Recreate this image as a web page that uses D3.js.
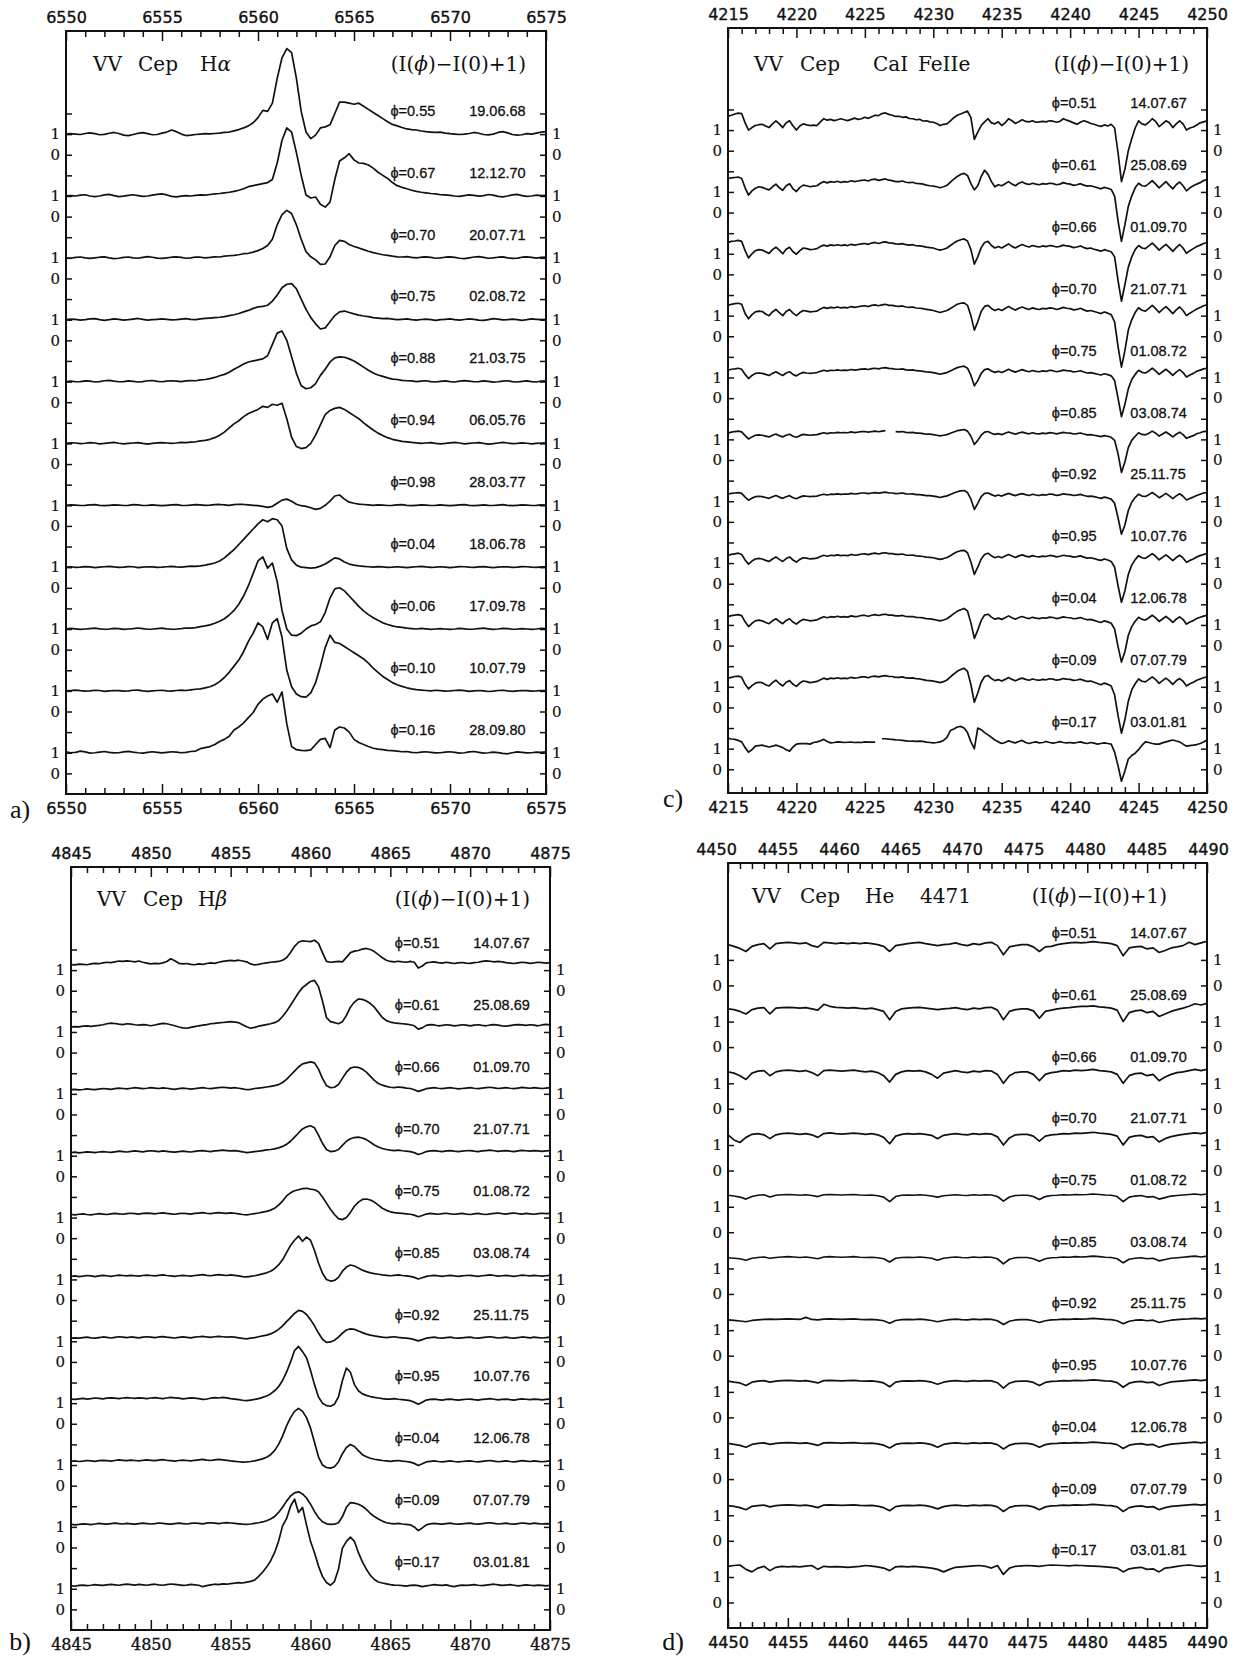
<!DOCTYPE html>
<html>
<head>
<meta charset="utf-8">
<script src="https://cdn.jsdelivr.net/npm/d3@7"></script>
<style>
  body { margin: 0; background: #fff; }
  svg { display: block; }
</style>
</head>
<body>
<svg id="fig" width="1238" height="1658"></svg>
<script>
// ---------- observation labels ----------
const haPhases = ["0.55","0.67","0.70","0.75","0.88","0.94","0.98","0.04","0.06","0.10","0.16"];
const haDates  = ["19.06.68","12.12.70","20.07.71","02.08.72","21.03.75","06.05.76","28.03.77","18.06.78","17.09.78","10.07.79","28.09.80"];
const obsPhases = ["0.51","0.61","0.66","0.70","0.75","0.85","0.92","0.95","0.04","0.09","0.17"];
const obsDates  = ["14.07.67","25.08.69","01.09.70","21.07.71","01.08.72","03.08.74","25.11.75","10.07.76","12.06.78","07.07.79","03.01.81"];

// ---------- H-alpha, 6550-6575 A, 0.25 A sampling: I(phi)-I(0)+1 ----------
const haFlux = [
 [1.0,1.02,1.0,0.98,1.03,1.06,1.02,0.97,0.99,1.04,1.08,1.03,0.95,0.93,0.98,1.04,1.07,1.02,0.97,0.98,
  1.05,1.1,1.2,1.12,1.0,0.93,0.95,0.98,1.0,1.02,1.01,1.03,1.05,1.08,1.1,1.16,1.22,1.3,1.4,1.55,
  1.8,2.15,2.1,2.5,3.7,4.7,5.15,4.95,3.7,2.1,1.1,0.78,0.95,1.3,1.35,1.45,2.0,2.55,2.55,2.5,
  2.45,2.5,2.35,2.2,2.05,1.9,1.75,1.6,1.47,1.4,1.32,1.25,1.22,1.2,1.15,1.12,1.1,1.08,1.1,1.05,
  1.02,1.0,0.98,1.0,1.03,1.08,1.04,0.98,0.96,1.0,1.08,1.12,1.06,0.98,0.95,0.97,1.02,1.0,1.05,1.1,1.12],
 [1.0,1.02,1.0,1.04,1.06,1.0,0.97,1.0,1.05,1.08,1.02,0.97,0.99,1.03,1.06,1.02,0.98,1.0,1.04,1.08,
  1.1,1.05,0.98,0.96,0.99,1.02,1.0,1.03,1.05,1.04,1.07,1.1,1.12,1.15,1.18,1.22,1.28,1.35,1.45,1.5,
  1.55,1.6,1.65,1.8,2.6,3.7,4.3,4.1,3.1,2.0,1.05,0.9,0.95,0.6,0.46,0.7,1.8,2.7,2.85,3.05,
  2.75,2.6,2.58,2.5,2.35,2.15,2.0,1.85,1.65,1.5,1.42,1.35,1.28,1.22,1.18,1.15,1.12,1.1,1.06,1.05,
  1.03,1.0,0.98,1.02,1.05,1.03,0.99,1.02,1.07,1.04,0.98,0.96,1.0,1.05,1.08,1.02,0.98,1.0,1.04,1.02,1.03],
 [1.0,0.98,1.02,1.04,1.0,0.97,1.0,1.03,1.05,1.0,0.96,0.98,1.02,1.04,1.0,0.98,1.02,1.06,1.03,0.99,
  0.97,1.0,1.03,1.05,1.02,0.98,1.0,1.04,1.03,1.0,1.02,1.05,1.04,1.08,1.1,1.12,1.15,1.2,1.22,1.28,
  1.35,1.45,1.6,1.9,2.6,3.1,3.3,3.15,2.6,1.9,1.3,1.05,0.9,0.68,0.7,1.05,1.6,1.85,1.8,1.65,
  1.55,1.48,1.4,1.32,1.25,1.2,1.15,1.12,1.08,1.05,1.04,1.06,1.02,1.0,1.03,1.05,1.02,0.98,1.0,1.03,
  1.05,1.02,0.98,0.96,1.0,1.04,1.06,1.02,0.98,1.0,1.03,1.05,1.0,0.97,0.99,1.03,1.05,1.02,0.99,1.02,1.04],
 [1.0,1.03,1.02,0.98,1.0,1.04,1.05,1.0,0.97,1.0,1.04,1.02,0.98,1.0,1.03,1.06,1.02,0.98,1.0,1.02,
  1.04,1.02,0.99,1.0,1.03,1.05,1.02,1.0,1.04,1.06,1.08,1.1,1.12,1.15,1.2,1.24,1.3,1.38,1.45,1.55,
  1.62,1.65,1.7,1.9,2.2,2.55,2.72,2.75,2.5,2.0,1.5,1.1,0.8,0.55,0.6,0.9,1.2,1.38,1.42,1.35,
  1.28,1.22,1.18,1.15,1.1,1.08,1.05,1.06,1.03,1.0,1.02,1.04,1.0,0.98,1.01,1.03,1.0,0.97,1.0,1.02,
  1.04,1.0,0.98,1.01,1.04,1.02,0.98,0.97,1.0,1.05,1.03,0.99,1.0,1.03,1.0,0.97,1.0,1.04,1.02,1.0,1.02],
 [1.0,1.02,0.99,1.0,1.03,1.02,0.98,1.0,1.04,1.06,1.02,0.99,1.0,1.03,1.01,0.98,1.0,1.04,1.05,1.01,
  0.99,1.02,1.04,1.02,1.0,1.03,1.05,1.04,1.08,1.1,1.14,1.2,1.28,1.35,1.45,1.6,1.72,1.85,1.95,2.0,
  2.05,2.1,2.25,2.8,3.35,3.45,3.0,2.2,1.4,0.8,0.65,0.7,0.9,1.3,1.6,1.95,2.15,2.2,2.18,2.1,
  2.0,1.85,1.7,1.55,1.42,1.32,1.25,1.18,1.12,1.1,1.06,1.04,1.03,1.0,1.02,1.04,1.0,0.98,1.01,1.03,
  1.0,0.98,1.02,1.05,1.02,0.99,1.0,1.03,1.01,0.97,0.99,1.02,1.04,1.0,0.98,1.01,1.03,1.0,0.98,1.02,1.03],
 [1.0,1.03,1.02,0.99,1.01,1.04,1.02,0.98,1.0,1.03,1.05,1.01,0.98,1.0,1.02,1.04,1.0,0.97,1.0,1.03,
  1.04,1.02,1.0,1.02,1.05,1.04,1.06,1.08,1.12,1.15,1.2,1.28,1.4,1.55,1.75,1.95,2.1,2.3,2.45,2.55,
  2.65,2.8,2.75,2.9,2.85,2.95,2.2,1.3,0.85,0.75,0.8,1.0,1.4,1.9,2.4,2.6,2.7,2.75,2.65,2.5,
  2.35,2.2,2.0,1.82,1.65,1.5,1.38,1.28,1.2,1.15,1.1,1.08,1.05,1.03,1.0,1.02,1.04,1.0,0.98,1.0,
  1.03,1.05,1.02,0.98,1.0,1.02,1.04,1.0,0.97,0.99,1.02,1.05,1.02,0.99,1.0,1.03,1.01,0.98,1.0,1.02,1.03],
 [1.0,1.02,1.01,0.99,1.0,1.02,1.03,1.0,0.98,1.0,1.02,1.01,0.99,1.0,1.03,1.02,0.99,1.0,1.02,1.0,
  0.98,1.0,1.02,1.03,1.0,0.99,1.01,1.03,1.02,1.0,1.01,1.03,1.04,1.02,1.0,1.03,1.05,1.04,1.02,1.0,
  0.98,0.95,0.9,0.95,1.1,1.25,1.3,1.2,1.05,0.98,0.95,0.88,0.8,0.85,1.0,1.2,1.45,1.5,1.3,1.15,
  1.1,1.06,1.04,1.02,1.0,1.02,1.01,0.99,1.0,1.02,1.03,1.0,0.98,1.0,1.02,1.01,0.99,1.0,1.02,1.0,
  0.98,1.0,1.02,1.03,1.0,0.98,1.0,1.02,1.0,0.99,1.01,1.03,1.0,0.98,1.0,1.02,1.01,0.99,1.0,1.02,1.01],
 [1.0,1.02,0.99,1.0,1.03,1.01,0.98,1.0,1.02,1.04,1.01,0.99,1.0,1.03,1.02,0.98,1.0,1.02,1.01,0.99,
  1.0,1.02,1.04,1.01,1.0,1.03,1.05,1.04,1.06,1.1,1.15,1.2,1.3,1.45,1.65,1.85,2.1,2.35,2.6,2.85,
  3.1,3.3,3.2,3.35,3.3,3.0,1.9,1.35,1.1,1.0,0.98,0.95,0.98,1.05,1.15,1.3,1.45,1.4,1.25,1.15,
  1.1,1.06,1.04,1.02,1.0,1.03,1.01,0.99,1.0,1.02,1.0,0.98,1.0,1.02,1.04,1.01,0.99,1.0,1.02,1.0,
  0.98,1.0,1.03,1.02,1.0,0.99,1.01,1.03,1.0,0.98,1.0,1.02,1.01,0.99,1.0,1.03,1.02,1.0,0.99,1.01,1.02],
 [1.0,1.03,1.01,0.98,1.0,1.02,1.04,1.01,0.99,1.0,1.03,1.02,0.98,1.0,1.02,1.05,1.02,0.99,1.0,1.02,
  1.04,1.01,0.99,1.0,1.02,1.05,1.04,1.07,1.12,1.15,1.2,1.28,1.38,1.5,1.68,1.9,2.2,2.6,3.1,3.7,
  4.3,4.5,3.95,4.2,3.3,1.9,1.0,0.7,0.68,0.8,1.0,1.15,1.22,1.35,1.8,2.5,2.95,3.0,2.85,2.6,
  2.35,2.1,1.88,1.7,1.55,1.42,1.3,1.22,1.15,1.1,1.08,1.04,1.02,1.0,1.03,1.01,0.98,1.0,1.02,1.0,
  0.98,1.0,1.03,1.01,0.99,1.0,1.02,1.04,1.01,0.98,1.0,1.03,1.02,0.99,1.0,1.02,1.0,0.98,1.0,1.03,1.02],
 [1.0,1.02,1.04,1.01,0.99,1.0,1.03,1.02,0.98,1.0,1.02,1.01,0.99,1.0,1.03,1.04,1.0,0.98,1.0,1.02,
  1.03,1.0,0.99,1.02,1.04,1.02,1.05,1.08,1.1,1.15,1.2,1.3,1.45,1.65,1.9,2.2,2.5,2.9,3.4,3.8,
  4.3,4.1,3.5,4.3,4.5,3.6,2.0,1.2,0.85,0.72,0.7,0.9,1.4,2.2,3.1,3.7,3.35,3.3,3.15,3.0,
  2.85,2.7,2.55,2.35,2.1,1.9,1.7,1.55,1.4,1.3,1.22,1.15,1.1,1.06,1.04,1.02,1.0,1.03,1.01,0.99,
  1.0,1.02,1.04,1.01,0.98,1.0,1.02,1.0,0.97,0.99,1.02,1.03,1.0,0.98,1.0,1.02,1.01,0.99,1.0,1.02,1.01],
 [1.05,1.0,1.02,1.08,1.04,0.98,1.0,1.03,1.06,1.02,0.99,1.0,1.04,1.07,1.03,1.0,0.98,1.02,1.05,1.02,
  0.99,1.02,1.05,1.03,1.0,1.02,1.06,1.08,1.2,1.25,1.3,1.4,1.55,1.65,1.8,2.1,2.25,2.45,2.7,2.95,
  3.35,3.6,3.75,3.85,3.45,3.95,2.4,1.3,1.15,1.12,1.1,1.14,1.4,1.65,1.7,1.25,2.1,2.25,2.2,2.0,
  1.65,1.5,1.4,1.3,1.22,1.18,1.15,1.12,1.1,1.08,1.05,1.06,1.02,1.0,1.03,1.05,1.02,0.99,1.0,1.03,
  1.05,1.02,0.98,1.0,1.04,1.06,1.02,0.98,1.0,1.03,1.01,0.97,0.95,1.0,1.04,1.02,0.99,1.0,1.03,1.02,1.05]
];

// ---------- H-beta, 4845-4875 A, 0.25 A sampling ----------
const hbFlux = [
 [1.27,1.25,1.29,1.28,1.26,1.3,1.33,1.31,1.35,1.38,1.36,1.4,1.44,1.42,1.45,1.43,1.4,1.44,1.38,1.34,
  1.3,1.33,1.31,1.35,1.42,1.55,1.45,1.33,1.3,1.32,1.28,1.26,1.3,1.28,1.32,1.35,1.33,1.38,1.42,1.45,
  1.47,1.45,1.48,1.44,1.4,1.3,1.25,1.28,1.32,1.35,1.38,1.4,1.42,1.48,1.6,1.85,2.15,2.35,2.42,2.4,
  2.38,2.45,2.3,1.85,1.42,1.38,1.4,1.42,1.4,1.62,1.85,1.92,1.95,2.02,2.05,2.0,1.9,1.75,1.6,1.48,
  1.42,1.4,1.43,1.4,1.38,1.42,1.38,1.1,1.2,1.35,1.38,1.4,1.36,1.34,1.38,1.35,1.32,1.35,1.37,1.34,
  1.33,1.36,1.38,1.42,1.45,1.43,1.4,1.42,1.4,1.36,1.34,1.32,1.35,1.38,1.36,1.33,1.35,1.38,1.36,1.34,1.36],
 [1.24,1.26,1.25,1.28,1.3,1.27,1.3,1.32,1.35,1.4,1.43,1.41,1.38,1.36,1.4,1.38,1.35,1.33,1.36,1.34,
  1.3,1.34,1.38,1.42,1.4,1.35,1.3,1.24,1.2,1.18,1.22,1.26,1.3,1.33,1.36,1.4,1.42,1.44,1.46,1.48,
  1.5,1.48,1.45,1.35,1.25,1.18,1.22,1.28,1.32,1.36,1.4,1.45,1.55,1.75,2.0,2.3,2.6,2.9,3.15,3.3,
  3.45,3.5,3.2,2.5,1.7,1.5,1.45,1.4,1.5,1.8,2.2,2.45,2.6,2.58,2.5,2.38,2.2,1.95,1.7,1.55,
  1.48,1.44,1.42,1.4,1.38,1.35,1.3,1.14,1.2,1.32,1.36,1.34,1.3,1.32,1.35,1.33,1.3,1.32,1.35,1.33,
  1.3,1.33,1.35,1.32,1.3,1.34,1.36,1.33,1.3,1.28,1.31,1.34,1.36,1.34,1.32,1.35,1.33,1.3,1.34,1.37,1.35],
 [1.2,1.22,1.19,1.21,1.24,1.22,1.2,1.23,1.26,1.24,1.22,1.25,1.28,1.26,1.24,1.27,1.3,1.28,1.25,1.27,
  1.3,1.28,1.26,1.29,1.27,1.24,1.22,1.25,1.28,1.26,1.23,1.25,1.28,1.3,1.27,1.25,1.28,1.3,1.32,1.3,
  1.28,1.3,1.27,1.24,1.2,1.22,1.26,1.28,1.3,1.33,1.36,1.4,1.45,1.55,1.7,1.9,2.1,2.3,2.45,2.5,
  2.55,2.5,2.2,1.75,1.4,1.3,1.32,1.45,1.75,2.05,2.25,2.3,2.28,2.2,2.05,1.85,1.65,1.5,1.42,1.36,
  1.32,1.3,1.33,1.31,1.28,1.26,1.2,1.12,1.18,1.25,1.28,1.3,1.27,1.25,1.28,1.3,1.27,1.24,1.26,1.28,
  1.3,1.27,1.25,1.28,1.3,1.32,1.29,1.26,1.28,1.3,1.27,1.25,1.28,1.31,1.29,1.27,1.3,1.28,1.26,1.28,1.3],
 [1.15,1.17,1.14,1.16,1.19,1.17,1.15,1.18,1.2,1.18,1.16,1.19,1.22,1.2,1.18,1.21,1.23,1.21,1.19,1.22,
  1.24,1.22,1.2,1.23,1.21,1.19,1.17,1.2,1.22,1.2,1.18,1.21,1.23,1.25,1.22,1.2,1.23,1.25,1.27,1.25,
  1.23,1.25,1.22,1.19,1.15,1.17,1.2,1.22,1.25,1.28,1.3,1.33,1.38,1.45,1.55,1.7,1.9,2.1,2.3,2.4,
  2.45,2.35,2.0,1.6,1.3,1.2,1.22,1.3,1.5,1.7,1.82,1.88,1.9,1.86,1.78,1.65,1.52,1.42,1.35,1.3,
  1.27,1.25,1.27,1.24,1.22,1.2,1.15,1.06,1.12,1.2,1.23,1.25,1.22,1.2,1.23,1.25,1.22,1.2,1.22,1.24,
  1.25,1.22,1.2,1.23,1.25,1.27,1.24,1.21,1.23,1.25,1.22,1.2,1.23,1.26,1.24,1.22,1.25,1.23,1.21,1.23,1.25],
 [1.15,1.13,1.16,1.18,1.15,1.13,1.16,1.19,1.17,1.15,1.18,1.2,1.18,1.16,1.19,1.21,1.19,1.17,1.2,1.22,
  1.2,1.18,1.21,1.23,1.2,1.18,1.16,1.19,1.21,1.19,1.17,1.2,1.22,1.24,1.21,1.19,1.22,1.24,1.22,1.2,
  1.23,1.21,1.18,1.15,1.13,1.16,1.19,1.22,1.26,1.3,1.36,1.45,1.6,1.8,2.05,2.2,2.3,2.35,2.4,2.42,
  2.38,2.35,2.25,2.0,1.7,1.4,1.15,0.95,0.9,1.0,1.25,1.55,1.75,1.88,1.9,1.85,1.75,1.6,1.45,1.35,
  1.28,1.24,1.22,1.2,1.18,1.16,1.12,1.04,1.1,1.17,1.2,1.18,1.16,1.19,1.21,1.18,1.16,1.18,1.2,1.17,
  1.15,1.18,1.2,1.17,1.15,1.18,1.2,1.22,1.19,1.17,1.2,1.22,1.19,1.17,1.2,1.18,1.16,1.19,1.21,1.19,1.2],
 [1.15,1.17,1.14,1.16,1.19,1.17,1.14,1.17,1.2,1.18,1.15,1.18,1.21,1.19,1.17,1.2,1.18,1.16,1.19,1.21,
  1.19,1.17,1.2,1.22,1.19,1.17,1.15,1.18,1.2,1.18,1.16,1.19,1.21,1.23,1.2,1.18,1.21,1.23,1.21,1.19,
  1.22,1.2,1.17,1.14,1.12,1.15,1.18,1.22,1.27,1.32,1.4,1.52,1.7,1.95,2.3,2.65,2.9,3.1,2.85,3.05,
  2.9,2.4,1.8,1.3,1.0,0.92,0.95,1.1,1.4,1.6,1.7,1.65,1.55,1.45,1.38,1.32,1.28,1.25,1.22,1.2,
  1.18,1.2,1.22,1.19,1.17,1.15,1.1,1.02,1.08,1.15,1.18,1.2,1.17,1.15,1.18,1.2,1.17,1.15,1.17,1.19,
  1.2,1.17,1.15,1.18,1.2,1.22,1.19,1.16,1.18,1.2,1.17,1.15,1.18,1.21,1.19,1.17,1.2,1.18,1.16,1.18,1.2],
 [1.15,1.17,1.15,1.18,1.2,1.17,1.15,1.18,1.21,1.19,1.16,1.19,1.22,1.2,1.18,1.21,1.19,1.17,1.2,1.22,
  1.2,1.18,1.21,1.23,1.2,1.18,1.16,1.19,1.21,1.19,1.17,1.2,1.22,1.24,1.21,1.19,1.22,1.24,1.22,1.2,
  1.22,1.2,1.17,1.14,1.12,1.15,1.18,1.22,1.26,1.3,1.36,1.45,1.58,1.75,1.95,2.15,2.35,2.5,2.45,2.3,
  2.05,1.75,1.4,1.1,0.95,0.97,1.05,1.2,1.4,1.55,1.6,1.58,1.5,1.42,1.35,1.3,1.26,1.23,1.2,1.18,
  1.2,1.22,1.19,1.17,1.15,1.13,1.08,1.02,1.08,1.15,1.18,1.2,1.17,1.15,1.18,1.2,1.17,1.15,1.17,1.19,
  1.2,1.17,1.15,1.18,1.2,1.22,1.19,1.16,1.18,1.2,1.17,1.15,1.18,1.21,1.19,1.17,1.2,1.18,1.16,1.18,1.2],
 [1.2,1.18,1.21,1.23,1.2,1.22,1.25,1.23,1.21,1.24,1.26,1.24,1.22,1.25,1.27,1.25,1.23,1.26,1.24,1.22,
  1.25,1.27,1.24,1.22,1.25,1.28,1.26,1.24,1.21,1.23,1.26,1.24,1.22,1.18,1.2,1.24,1.27,1.25,1.28,1.26,
  1.22,1.2,1.17,1.14,1.12,1.15,1.18,1.22,1.28,1.35,1.45,1.6,1.8,2.1,2.5,3.0,3.55,3.75,3.5,3.2,
  2.6,1.9,1.3,1.0,0.88,0.85,0.95,1.3,2.1,2.7,2.5,1.9,1.6,1.45,1.38,1.32,1.28,1.25,1.22,1.2,
  1.2,1.22,1.19,1.17,1.15,1.12,1.05,0.95,1.05,1.15,1.18,1.2,1.17,1.15,1.18,1.2,1.17,1.15,1.17,1.19,
  1.2,1.17,1.15,1.18,1.2,1.22,1.19,1.16,1.18,1.2,1.17,1.15,1.18,1.21,1.19,1.17,1.2,1.18,1.16,1.18,1.2],
 [1.18,1.2,1.17,1.19,1.22,1.2,1.18,1.21,1.23,1.21,1.19,1.22,1.25,1.23,1.21,1.24,1.22,1.2,1.23,1.25,
  1.23,1.21,1.24,1.26,1.23,1.21,1.19,1.22,1.24,1.22,1.2,1.23,1.25,1.27,1.24,1.22,1.25,1.27,1.25,1.23,
  1.2,1.18,1.16,1.14,1.15,1.17,1.2,1.25,1.3,1.38,1.5,1.7,2.0,2.4,2.9,3.3,3.6,3.75,3.6,3.3,
  2.8,2.1,1.4,1.0,0.88,0.85,0.92,1.15,1.55,1.85,2.0,1.9,1.7,1.5,1.4,1.33,1.28,1.25,1.22,1.2,
  1.18,1.2,1.22,1.19,1.17,1.14,1.08,0.98,1.06,1.15,1.18,1.2,1.17,1.15,1.18,1.2,1.17,1.15,1.17,1.19,
  1.2,1.17,1.15,1.18,1.2,1.22,1.19,1.16,1.18,1.2,1.17,1.15,1.18,1.21,1.19,1.17,1.2,1.18,1.16,1.18,1.2],
 [1.13,1.1,1.12,1.15,1.13,1.11,1.14,1.17,1.15,1.13,1.16,1.18,1.16,1.14,1.17,1.15,1.13,1.16,1.18,1.16,
  1.14,1.16,1.19,1.17,1.15,1.13,1.16,1.18,1.16,1.14,1.17,1.19,1.17,1.15,1.18,1.2,1.18,1.16,1.19,1.21,
  1.19,1.17,1.15,1.13,1.12,1.14,1.17,1.2,1.24,1.3,1.38,1.5,1.7,1.95,2.25,2.5,2.65,2.7,2.6,2.4,
  2.1,1.75,1.45,1.25,1.15,1.12,1.13,1.2,1.5,1.95,2.18,2.15,2.1,2.0,1.85,1.65,1.5,1.38,1.28,1.2,
  1.17,1.15,1.17,1.14,1.12,1.1,1.0,0.82,0.95,1.1,1.15,1.17,1.15,1.13,1.16,1.18,1.15,1.13,1.15,1.17,
  1.18,1.15,1.13,1.16,1.18,1.2,1.17,1.14,1.16,1.18,1.15,1.13,1.16,1.19,1.17,1.15,1.18,1.16,1.14,1.16,1.15],
 [1.15,1.12,1.16,1.18,1.15,1.17,1.2,1.18,1.16,1.19,1.21,1.19,1.17,1.2,1.22,1.2,1.18,1.21,1.19,1.17,
  1.2,1.22,1.19,1.17,1.2,1.23,1.21,1.19,1.16,1.18,1.21,1.19,1.17,1.1,1.15,1.19,1.22,1.2,1.24,1.22,
  1.25,1.27,1.3,1.28,1.32,1.36,1.42,1.6,1.8,2.05,2.35,2.75,3.3,4.05,4.4,5.0,5.35,4.7,4.95,4.1,
  3.3,2.75,2.1,1.6,1.3,1.17,1.35,1.95,2.97,3.3,3.5,3.3,2.75,2.3,1.95,1.65,1.45,1.33,1.28,1.24,
  1.2,1.18,1.17,1.15,1.13,1.16,1.18,1.15,1.1,1.14,1.17,1.2,1.18,1.16,1.19,1.14,1.1,1.15,1.18,1.16,
  1.18,1.2,1.17,1.15,1.18,1.2,1.22,1.19,1.16,1.18,1.2,1.17,1.14,1.16,1.19,1.17,1.15,1.18,1.16,1.14,1.17]
];

// ---------- Ca I / Fe II region, 4215-4250 A, 0.25 A sampling (null = no data) ----------
const caFlux = [
 [1.67,1.72,1.78,1.82,1.8,1.35,1.0,1.12,1.22,1.26,1.28,1.2,1.12,1.3,1.45,1.3,1.12,1.35,1.45,1.2,
  1.0,1.2,1.3,1.25,1.22,1.24,1.22,1.4,1.55,1.48,1.52,1.46,1.5,1.55,1.5,1.46,1.52,1.58,1.52,1.55,
  1.62,1.57,1.65,1.72,1.7,1.8,1.83,1.76,1.72,1.66,1.67,1.62,1.64,1.56,1.55,1.5,1.52,1.44,1.45,1.4,
  1.38,1.32,1.22,1.28,1.3,1.45,1.6,1.72,1.78,1.85,1.92,1.6,0.55,0.9,1.22,1.4,1.55,1.35,1.3,1.4,
  1.22,1.35,1.55,1.45,1.32,1.4,1.5,1.42,1.4,1.45,1.38,1.4,1.42,1.4,1.45,1.43,1.38,1.42,1.55,1.48,
  1.42,1.35,1.28,1.38,1.45,1.4,1.32,1.28,1.22,1.18,1.25,1.2,1.28,1.1,-0.1,-1.5,-0.9,0.0,0.58,1.1,
  1.45,1.3,1.25,1.38,1.55,1.42,1.17,1.3,1.45,1.35,1.12,1.3,1.45,1.3,1.0,1.1,1.15,1.25,1.35,1.4,1.45],
 [1.65,1.68,1.7,1.72,1.65,1.2,0.85,1.05,1.18,1.25,1.22,1.15,1.1,1.25,1.38,1.2,1.08,1.3,1.4,1.15,
  1.02,1.22,1.33,1.3,1.25,1.28,1.3,1.42,1.5,1.44,1.5,1.47,1.52,1.46,1.5,1.48,1.54,1.5,1.53,1.56,
  1.58,1.53,1.6,1.62,1.56,1.6,1.63,1.57,1.55,1.5,1.5,1.53,1.47,1.45,1.47,1.41,1.4,1.38,1.33,1.3,
  1.28,1.25,1.2,1.25,1.32,1.48,1.62,1.75,1.85,1.9,1.8,1.4,1.1,1.3,1.75,2.05,1.85,1.5,1.25,1.35,
  1.3,1.4,1.5,1.38,1.3,1.42,1.48,1.4,1.36,1.42,1.38,1.35,1.4,1.38,1.42,1.4,1.35,1.38,1.45,1.4,
  1.38,1.32,1.35,1.4,1.33,1.28,1.3,1.25,1.2,1.15,1.22,1.18,1.12,0.8,-0.4,-1.4,-0.6,0.3,0.8,1.2,
  1.42,1.3,1.28,1.4,1.55,1.38,1.2,1.35,1.5,1.32,1.15,1.35,1.48,1.3,1.05,1.2,1.3,1.38,1.45,1.55,1.6],
 [1.55,1.6,1.62,1.65,1.6,1.15,0.8,1.0,1.15,1.2,1.18,1.1,1.02,1.2,1.32,1.18,1.0,1.22,1.32,1.1,
  0.98,1.15,1.28,1.25,1.2,1.22,1.25,1.35,1.42,1.37,1.43,1.4,1.44,1.4,1.43,1.4,1.46,1.42,1.45,1.48,
  1.5,1.46,1.52,1.55,1.5,1.55,1.58,1.53,1.52,1.48,1.47,1.49,1.44,1.42,1.44,1.39,1.38,1.36,1.32,1.3,
  1.28,1.22,1.18,1.22,1.28,1.4,1.52,1.62,1.68,1.72,1.62,1.2,0.5,0.85,1.3,1.55,1.6,1.4,1.28,1.35,
  1.28,1.38,1.48,1.36,1.28,1.38,1.45,1.38,1.33,1.4,1.36,1.33,1.38,1.35,1.4,1.38,1.33,1.36,1.42,1.38,
  1.36,1.3,1.33,1.38,1.3,1.25,1.28,1.22,1.18,1.12,1.2,1.15,1.1,0.85,-0.3,-1.3,-0.5,0.35,0.85,1.2,
  1.4,1.28,1.25,1.38,1.52,1.36,1.18,1.32,1.46,1.3,1.12,1.3,1.45,1.28,1.02,1.15,1.25,1.35,1.42,1.5,1.55],
 [1.5,1.55,1.58,1.6,1.55,1.1,0.85,1.05,1.18,1.22,1.2,1.08,1.0,1.18,1.3,1.15,1.0,1.2,1.3,1.12,
  1.0,1.15,1.25,1.22,1.18,1.2,1.22,1.32,1.4,1.35,1.4,1.38,1.42,1.38,1.4,1.38,1.44,1.4,1.43,1.46,
  1.48,1.44,1.5,1.52,1.48,1.52,1.55,1.5,1.5,1.46,1.45,1.47,1.42,1.4,1.42,1.37,1.36,1.34,1.3,1.28,
  1.25,1.2,1.15,1.2,1.25,1.35,1.45,1.55,1.6,1.62,1.5,1.0,0.3,0.7,1.2,1.45,1.5,1.35,1.25,1.32,
  1.25,1.35,1.45,1.35,1.27,1.36,1.42,1.35,1.3,1.38,1.33,1.3,1.35,1.33,1.38,1.36,1.3,1.34,1.4,1.36,
  1.34,1.28,1.3,1.36,1.28,1.22,1.25,1.2,1.15,1.1,1.18,1.12,1.05,0.7,-0.5,-1.5,-0.7,0.3,0.8,1.15,
  1.38,1.26,1.22,1.35,1.5,1.34,1.15,1.3,1.44,1.28,1.1,1.28,1.42,1.25,1.0,1.12,1.22,1.32,1.4,1.48,1.52],
 [1.35,1.4,1.42,1.45,1.4,1.15,0.95,1.1,1.2,1.22,1.2,1.15,1.1,1.2,1.28,1.18,1.1,1.22,1.28,1.15,
  1.08,1.18,1.25,1.22,1.2,1.22,1.24,1.3,1.35,1.31,1.35,1.34,1.37,1.34,1.36,1.35,1.39,1.36,1.38,1.41,
  1.42,1.39,1.43,1.45,1.42,1.46,1.48,1.44,1.43,1.4,1.4,1.42,1.37,1.36,1.37,1.33,1.32,1.3,1.27,1.26,
  1.24,1.2,1.16,1.2,1.24,1.32,1.4,1.48,1.52,1.55,1.45,1.1,0.6,0.85,1.2,1.38,1.42,1.32,1.25,1.3,
  1.24,1.32,1.4,1.32,1.26,1.33,1.38,1.32,1.28,1.34,1.3,1.28,1.32,1.3,1.35,1.33,1.28,1.31,1.36,1.33,
  1.32,1.27,1.29,1.33,1.27,1.22,1.24,1.2,1.16,1.12,1.18,1.14,1.08,0.85,0.0,-0.9,-0.3,0.45,0.9,1.15,
  1.35,1.25,1.22,1.32,1.45,1.32,1.15,1.28,1.4,1.26,1.1,1.26,1.38,1.24,1.02,1.12,1.2,1.3,1.36,1.42,1.45],
 [1.3,1.35,1.38,1.4,1.36,1.18,1.02,1.12,1.2,1.22,1.2,1.16,1.12,1.2,1.26,1.18,1.12,1.2,1.25,1.15,
  1.1,1.18,1.24,1.22,1.2,1.22,1.23,1.28,1.32,1.28,1.32,1.31,1.34,1.32,1.33,1.32,1.36,1.33,1.35,1.38,
  1.38,1.35,1.38,1.4,1.37,1.4,1.42,null,null,1.38,1.36,1.38,1.34,1.33,1.34,1.3,1.3,1.28,1.25,1.25,
  1.23,1.2,1.17,1.2,1.23,1.3,1.36,1.42,1.45,1.48,1.4,1.15,0.75,0.95,1.2,1.35,1.38,1.3,1.24,1.28,
  1.23,1.3,1.36,1.3,1.25,1.31,1.35,1.3,1.27,1.32,1.28,1.27,1.3,1.28,1.33,1.31,1.27,1.3,1.34,1.31,
  1.3,1.26,1.28,1.31,1.26,1.22,1.23,1.2,1.17,1.13,1.18,1.15,1.1,0.95,0.3,-0.6,-0.1,0.6,0.95,1.15,
  1.32,1.24,1.22,1.3,1.4,1.3,1.16,1.26,1.36,1.25,1.12,1.25,1.35,1.23,1.05,1.12,1.18,1.27,1.32,1.38,1.4],
 [1.35,1.38,1.4,1.42,1.38,1.2,1.05,1.15,1.22,1.24,1.22,1.18,1.14,1.22,1.28,1.2,1.14,1.22,1.27,1.17,
  1.12,1.2,1.26,1.24,1.22,1.24,1.25,1.3,1.34,1.3,1.34,1.33,1.36,1.33,1.35,1.34,1.38,1.35,1.37,1.4,
  1.4,1.37,1.4,1.42,1.39,1.42,1.44,1.4,1.4,1.37,1.38,1.4,1.36,1.35,1.36,1.32,1.32,1.3,1.27,1.27,
  1.25,1.22,1.18,1.22,1.26,1.33,1.4,1.46,1.5,1.52,1.42,1.1,0.6,0.9,1.22,1.38,1.4,1.32,1.25,1.3,
  1.25,1.32,1.38,1.32,1.27,1.33,1.37,1.32,1.28,1.34,1.3,1.28,1.32,1.3,1.35,1.33,1.28,1.31,1.36,1.33,
  1.32,1.28,1.3,1.33,1.28,1.24,1.25,1.22,1.18,1.14,1.2,1.16,1.1,0.9,0.2,-0.6,-0.15,0.55,0.95,1.18,
  1.34,1.25,1.23,1.32,1.42,1.31,1.17,1.27,1.38,1.26,1.13,1.26,1.36,1.24,1.06,1.13,1.2,1.28,1.34,1.4,1.42],
 [1.38,1.42,1.45,1.48,1.42,1.15,0.95,1.1,1.2,1.23,1.2,1.13,1.08,1.2,1.3,1.18,1.08,1.22,1.3,1.15,
  1.05,1.18,1.26,1.24,1.2,1.22,1.24,1.32,1.38,1.33,1.38,1.36,1.4,1.36,1.38,1.36,1.42,1.38,1.4,1.44,
  1.45,1.41,1.46,1.48,1.44,1.48,1.5,1.46,1.46,1.42,1.42,1.44,1.39,1.38,1.39,1.35,1.34,1.32,1.29,1.28,
  1.26,1.22,1.18,1.22,1.27,1.36,1.46,1.55,1.6,1.62,1.5,1.05,0.45,0.8,1.2,1.42,1.48,1.35,1.26,1.32,
  1.26,1.34,1.42,1.34,1.27,1.35,1.4,1.34,1.3,1.36,1.32,1.3,1.34,1.32,1.37,1.35,1.3,1.33,1.38,1.35,
  1.34,1.29,1.31,1.35,1.29,1.24,1.26,1.22,1.17,1.13,1.2,1.15,1.08,0.8,-0.1,-0.9,-0.35,0.45,0.9,1.17,
  1.36,1.26,1.23,1.34,1.46,1.33,1.16,1.28,1.4,1.27,1.12,1.27,1.38,1.25,1.04,1.13,1.2,1.3,1.36,1.42,1.46],
 [1.4,1.45,1.48,1.5,1.45,1.15,0.92,1.08,1.2,1.23,1.2,1.12,1.06,1.2,1.3,1.17,1.06,1.22,1.3,1.14,
  1.04,1.18,1.27,1.24,1.2,1.22,1.25,1.33,1.4,1.35,1.4,1.38,1.42,1.38,1.4,1.38,1.44,1.4,1.42,1.46,
  1.46,1.42,1.47,1.5,1.46,1.5,1.52,1.48,1.48,1.44,1.44,1.46,1.41,1.4,1.41,1.37,1.36,1.34,1.3,1.29,
  1.27,1.23,1.2,1.24,1.3,1.42,1.55,1.66,1.74,1.8,1.68,1.1,0.35,0.75,1.22,1.48,1.52,1.38,1.28,1.33,
  1.27,1.35,1.44,1.35,1.28,1.36,1.41,1.35,1.31,1.37,1.33,1.31,1.35,1.33,1.38,1.36,1.31,1.34,1.39,1.36,
  1.35,1.3,1.32,1.36,1.3,1.25,1.27,1.22,1.17,1.12,1.2,1.15,1.08,0.8,-0.05,-0.8,-0.3,0.5,0.92,1.18,
  1.37,1.27,1.24,1.35,1.47,1.34,1.17,1.29,1.41,1.28,1.12,1.28,1.39,1.26,1.04,1.14,1.21,1.31,1.37,1.43,1.47],
 [1.42,1.46,1.5,1.52,1.46,1.12,0.9,1.06,1.18,1.22,1.2,1.1,1.04,1.2,1.32,1.16,1.04,1.22,1.3,1.12,
  1.02,1.18,1.28,1.25,1.2,1.23,1.26,1.34,1.42,1.36,1.42,1.4,1.44,1.4,1.42,1.4,1.46,1.42,1.44,1.48,
  1.48,1.44,1.5,1.52,1.48,1.52,1.54,1.5,1.5,1.46,1.46,1.48,1.43,1.42,1.43,1.39,1.38,1.35,1.31,1.3,
  1.28,1.24,1.2,1.25,1.33,1.48,1.62,1.75,1.84,1.9,1.75,1.1,0.25,0.7,1.22,1.5,1.55,1.4,1.3,1.35,
  1.28,1.36,1.45,1.36,1.29,1.37,1.42,1.36,1.32,1.38,1.34,1.32,1.36,1.34,1.39,1.37,1.32,1.35,1.4,1.37,
  1.36,1.31,1.33,1.37,1.31,1.26,1.28,1.22,1.16,1.1,1.18,1.12,1.04,0.6,-0.4,-1.25,-0.6,0.3,0.85,1.15,
  1.38,1.27,1.24,1.36,1.48,1.35,1.17,1.3,1.42,1.29,1.12,1.29,1.4,1.27,1.04,1.15,1.22,1.32,1.38,1.44,1.48],
 [1.5,1.47,1.45,1.4,1.33,1.05,0.83,0.95,1.12,1.15,1.17,1.12,1.08,1.12,1.17,1.12,1.05,0.95,0.88,1.08,
  1.22,1.24,1.25,1.24,1.22,1.3,1.33,1.38,1.45,1.35,1.28,1.3,1.33,1.32,1.3,1.31,1.32,1.3,1.31,1.3,
  1.33,1.32,1.32,1.32,null,1.48,1.48,1.46,1.45,1.43,1.42,1.4,1.38,1.36,1.37,1.35,1.37,1.35,1.32,1.3,
  1.28,1.3,1.33,1.4,1.55,1.88,1.95,2.05,2.08,2.0,1.78,1.33,1.0,2.0,1.92,1.78,1.67,1.55,1.42,1.33,
  1.25,1.3,1.38,1.32,1.28,1.35,1.4,1.3,1.25,1.3,1.33,1.28,1.3,1.35,1.3,1.27,1.3,1.34,1.3,1.28,
  1.3,1.27,1.3,1.33,1.28,1.25,1.3,1.27,1.22,1.25,1.28,1.25,1.22,0.83,0.17,-0.58,-0.08,0.5,0.67,0.78,
  0.95,1.17,1.33,1.3,1.25,1.22,1.22,1.28,1.33,1.38,1.42,1.37,1.33,1.22,1.12,1.15,1.17,1.2,1.25,1.32,1.42]
];

// ---------- He I 4471 region, 4450-4490 A, 0.5 A sampling ----------
const heFlux = [
 [1.6,1.53,1.45,1.33,1.53,1.6,1.64,1.43,1.64,1.67, 1.69,1.67,1.64,1.67,1.56,1.5,1.69,1.67,1.64,1.67,
  1.64,1.67,1.64,1.67,1.64,1.6,1.53,1.33,1.56,1.6, 1.64,1.67,1.69,1.64,1.6,1.56,1.6,1.62,1.67,1.6,
  1.56,1.64,1.6,1.67,1.69,1.56,1.2,1.51,1.56,1.6, 1.6,1.51,1.33,1.51,1.53,1.6,1.64,1.67,1.69,1.67,
  1.69,1.72,1.69,1.67,1.64,1.56,1.16,1.47,1.51,1.53, 1.43,1.47,1.29,1.37,1.47,1.51,1.56,1.69,1.6,1.67,1.73],
 [1.5,1.47,1.4,1.3,1.47,1.53,1.55,1.3,1.53,1.55, 1.56,1.55,1.53,1.55,1.5,1.45,1.68,1.6,1.56,1.55,
  1.53,1.55,1.52,1.5,1.53,1.47,1.4,1.07,1.4,1.5, 1.53,1.55,1.56,1.53,1.5,1.47,1.5,1.52,1.55,1.5,
  1.47,1.53,1.5,1.55,1.56,1.45,1.07,1.4,1.47,1.5, 1.5,1.42,1.13,1.4,1.45,1.5,1.53,1.55,1.58,1.6,
  1.6,1.62,1.58,1.56,1.53,1.45,1.0,1.35,1.42,1.45, 1.35,1.4,1.2,1.3,1.4,1.47,1.53,1.6,1.7,1.65,1.72],
 [1.45,1.4,1.3,1.15,1.4,1.48,1.5,1.3,1.45,1.5, 1.52,1.5,1.47,1.5,1.42,1.3,1.5,1.52,1.5,1.48,
  1.5,1.52,1.48,1.45,1.48,1.42,1.3,1.05,1.35,1.45, 1.5,1.48,1.5,1.45,1.35,1.2,1.4,1.45,1.5,1.45,
  1.42,1.48,1.45,1.5,1.48,1.35,1.0,1.3,1.42,1.45, 1.45,1.35,1.1,1.35,1.42,1.45,1.5,1.48,1.52,1.5,
  1.52,1.55,1.5,1.48,1.45,1.35,1.0,1.3,1.38,1.4, 1.3,1.35,1.1,1.25,1.35,1.42,1.45,1.5,1.55,1.5,1.55],
 [1.4,1.2,1.1,1.3,1.42,1.45,1.4,1.25,1.4,1.45, 1.47,1.45,1.42,1.45,1.4,1.3,1.45,1.48,1.45,1.43,
  1.45,1.47,1.45,1.42,1.45,1.4,1.3,1.05,1.35,1.42, 1.45,1.43,1.45,1.42,1.38,1.25,1.38,1.42,1.45,1.42,
  1.4,1.45,1.42,1.45,1.43,1.32,1.0,1.28,1.4,1.42, 1.42,1.35,1.15,1.35,1.4,1.42,1.45,1.44,1.47,1.46,
  1.48,1.5,1.47,1.45,1.42,1.35,1.0,1.3,1.36,1.38, 1.3,1.33,1.12,1.25,1.33,1.38,1.42,1.45,1.48,1.45,1.5],
 [1.45,1.42,1.38,1.3,1.4,1.45,1.47,1.38,1.45,1.47, 1.48,1.47,1.45,1.47,1.44,1.4,1.47,1.48,1.47,1.46,
  1.47,1.48,1.46,1.45,1.46,1.43,1.38,1.2,1.4,1.45, 1.46,1.45,1.47,1.45,1.42,1.38,1.43,1.45,1.47,1.45,
  1.44,1.47,1.45,1.47,1.46,1.4,1.22,1.38,1.44,1.45, 1.45,1.4,1.28,1.4,1.44,1.45,1.47,1.46,1.48,1.47,
  1.48,1.5,1.48,1.46,1.45,1.4,1.2,1.38,1.42,1.44, 1.38,1.4,1.3,1.36,1.42,1.44,1.46,1.48,1.5,1.47,1.5],
 [1.42,1.4,1.38,1.32,1.4,1.43,1.45,1.4,1.43,1.45, 1.46,1.45,1.43,1.45,1.42,1.38,1.45,1.46,1.45,1.44,
  1.45,1.46,1.44,1.43,1.44,1.42,1.38,1.25,1.4,1.43, 1.44,1.43,1.45,1.43,1.4,1.32,1.4,1.43,1.45,1.43,
  1.42,1.45,1.43,1.45,1.44,1.38,1.18,1.36,1.42,1.43, 1.43,1.38,1.28,1.38,1.42,1.43,1.45,1.44,1.46,1.45,
  1.46,1.48,1.46,1.44,1.43,1.38,1.22,1.36,1.4,1.42, 1.38,1.4,1.3,1.35,1.4,1.42,1.44,1.46,1.48,1.45,1.48],
 [1.4,1.38,1.36,1.33,1.38,1.4,1.42,1.43,1.42,1.43, 1.44,1.43,1.42,1.5,1.42,1.4,1.43,1.44,1.43,1.42,
  1.43,1.44,1.42,1.41,1.42,1.4,1.37,1.27,1.38,1.41, 1.42,1.41,1.43,1.41,1.38,1.33,1.38,1.41,1.43,1.41,
  1.4,1.43,1.41,1.43,1.42,1.37,1.22,1.35,1.4,1.41, 1.41,1.37,1.3,1.37,1.4,1.41,1.43,1.42,1.44,1.43,
  1.44,1.46,1.44,1.42,1.41,1.37,1.25,1.35,1.39,1.4, 1.37,1.39,1.3,1.35,1.39,1.41,1.43,1.44,1.46,1.44,1.46],
 [1.42,1.38,1.35,1.25,1.38,1.42,1.44,1.38,1.42,1.44, 1.45,1.44,1.42,1.44,1.4,1.35,1.44,1.45,1.44,1.43,
  1.44,1.45,1.43,1.42,1.43,1.4,1.35,1.2,1.38,1.42, 1.43,1.42,1.44,1.42,1.38,1.3,1.38,1.42,1.44,1.42,
  1.41,1.44,1.42,1.44,1.43,1.36,1.15,1.34,1.41,1.42, 1.42,1.37,1.25,1.37,1.41,1.42,1.44,1.43,1.45,1.44,
  1.45,1.47,1.45,1.43,1.42,1.36,1.18,1.34,1.39,1.41, 1.36,1.38,1.25,1.33,1.39,1.41,1.43,1.45,1.47,1.44,1.47],
 [1.4,1.36,1.32,1.25,1.36,1.4,1.42,1.36,1.4,1.42, 1.43,1.42,1.4,1.42,1.38,1.32,1.42,1.43,1.42,1.41,
  1.42,1.43,1.41,1.4,1.41,1.38,1.33,1.22,1.36,1.4, 1.41,1.4,1.42,1.4,1.35,1.25,1.36,1.4,1.42,1.4,
  1.39,1.42,1.4,1.42,1.41,1.35,1.18,1.33,1.39,1.4, 1.4,1.36,1.25,1.35,1.39,1.4,1.42,1.41,1.43,1.42,
  1.43,1.45,1.43,1.41,1.4,1.35,1.2,1.33,1.37,1.39, 1.34,1.36,1.25,1.32,1.37,1.39,1.41,1.43,1.45,1.42,1.45],
 [1.38,1.35,1.3,1.22,1.35,1.38,1.4,1.33,1.38,1.4, 1.41,1.4,1.38,1.4,1.36,1.3,1.4,1.41,1.4,1.39,
  1.4,1.41,1.39,1.38,1.39,1.36,1.3,1.18,1.34,1.38, 1.39,1.38,1.4,1.38,1.33,1.25,1.34,1.38,1.4,1.38,
  1.37,1.4,1.38,1.4,1.39,1.33,1.15,1.31,1.37,1.38, 1.38,1.33,1.22,1.33,1.37,1.38,1.4,1.39,1.41,1.4,
  1.41,1.43,1.41,1.39,1.38,1.33,1.15,1.3,1.35,1.37, 1.32,1.34,1.22,1.3,1.35,1.37,1.39,1.41,1.43,1.4,1.43],
 [1.42,1.45,1.47,1.3,1.2,1.35,1.42,1.25,1.38,1.42, 1.4,1.42,1.4,1.43,1.45,1.3,1.42,1.4,1.41,1.4,
  1.38,1.4,1.42,1.45,1.43,1.4,1.35,1.25,1.4,1.42, 1.4,1.42,1.4,1.38,1.35,1.3,1.2,1.3,1.38,1.4,
  1.42,1.44,1.45,1.42,1.35,1.45,1.1,1.35,1.42,1.44, 1.45,1.44,1.42,1.45,1.47,1.46,1.45,1.44,1.46,1.45,
  1.44,1.43,1.42,1.4,1.38,1.35,1.2,1.32,1.36,1.38, 1.3,1.32,1.2,1.35,1.38,1.42,1.45,1.47,1.44,1.42,1.45]
];

// ---------- figure ----------
const svg = d3.select("#fig");
const INK = "#111";
const SANS = "'DejaVu Sans', Verdana, sans-serif";
const SERIF = "'DejaVu Serif', 'Liberation Serif', serif";
const LABEL = "'Liberation Sans', Arial, sans-serif";

const panels = [
  { id: "a", x0: 6550, x1: 6575, step: 0.25, flux: haFlux, phases: haPhases, dates: haDates,
    box: { l: 66, r: 546, t: 31, b: 794 }, yDom: [-31, 6], shift: 3, blank: true, textY: 2.13,
    words: [["VV", 27], ["Cep", 72], ["H", 134, "α"]], exprRight: 20, titleBase: 40,
    tag: "a)", tagX: 20, tagBase: 24, bottomFont: SANS, topShift: [0, 0] },
  { id: "b", x0: 4845, x1: 4875, step: 0.25, flux: hbFlux, phases: obsPhases, dates: obsDates,
    box: { l: 71, r: 550, t: 867, b: 1630 }, yDom: [-31, 6], shift: 3, blank: true, textY: 2.3,
    words: [["VV", 26], ["Cep", 72], ["H", 127, "β"]], exprRight: 20, titleBase: 39,
    tag: "b)", tagX: 20, tagBase: 20, bottomFont: SERIF, topShift: [0, 0] },
  { id: "c", x0: 4215, x1: 4250, step: 0.25, flux: caFlux, phases: obsPhases, dates: obsDates,
    box: { l: 728, r: 1207, t: 28, b: 793 }, yDom: [-31.15, 5.95], shift: 3, blank: true, textY: 2.3,
    words: [["VV", 26], ["Cep", 72], ["CaI", 145], ["FeIIe", 190]], exprRight: 18, titleBase: 43,
    tag: "c)", tagX: 673, tagBase: 14, bottomFont: SANS, topShift: [0, 0] },
  { id: "d", x0: 4450, x1: 4490, step: 0.5, flux: heFlux, phases: obsPhases, dates: obsDates,
    box: { l: 728, r: 1207, t: 863, b: 1628 }, yDom: [-25.2, 4.8], shift: 2.42, blank: false, textY: 2.05,
    words: [["VV", 24], ["Cep", 72], ["He", 137], ["4471", 192]], exprRight: 40, titleBase: 40,
    tag: "d)", tagX: 673, tagBase: 22, bottomFont: SANS, topShift: [-12, 1] }
];

panels.forEach(drawPanel);

function drawPanel(p) {
  const { l, r, t, b } = p.box;
  const g = svg.append("g").attr("class", "panel-" + p.id);
  const x = d3.scaleLinear().domain([p.x0, p.x1]).range([l, r]);
  const y = d3.scaleLinear().domain(p.yDom).range([b, t]);

  // clip region for the traces
  g.append("clipPath").attr("id", "clip-" + p.id)
    .append("rect").attr("x", l).attr("y", t).attr("width", r - l).attr("height", b - t);

  // spectra, each shifted down by p.shift units
  const line = d3.line()
    .defined(d => d[1] !== null)
    .x(d => x(d[0]))
    .y(d => y(d[1]));
  const traces = g.append("g").attr("clip-path", `url(#clip-${p.id})`);
  p.flux.forEach((series, i) => {
    const pts = series.map((v, k) => [p.x0 + p.step * k, v === null ? null : v - p.shift * i]);
    traces.append("path")
      .attr("d", line(pts))
      .attr("fill", "none")
      .attr("stroke", INK)
      .attr("stroke-width", 1.7)
      .attr("stroke-linejoin", "round");
  });

  // wavelength axes: minor ticks every 1 A, major every 5 A
  const minor = d3.range(p.x0, p.x1 + 0.001, 1).filter(v => v % 5 !== 0);
  const major = d3.range(p.x0, p.x1 + 0.001, 5);
  const tickAxis = (axisFn, yPos, values, size) => {
    g.append("g").attr("transform", `translate(0,${yPos})`)
      .call(axisFn(x).tickValues(values).tickSize(size).tickFormat(""))
      .call(s => s.select(".domain").remove())
      .call(s => s.selectAll("line").attr("stroke", INK).attr("stroke-width", 1.5));
  };
  tickAxis(d3.axisTop, t, minor, -6);
  tickAxis(d3.axisTop, t, major, -10);
  tickAxis(d3.axisBottom, b, minor, -6);
  tickAxis(d3.axisBottom, b, major, -10);

  // wavelength labels
  const heavy = s => s.attr("fill", INK).attr("stroke", INK).attr("stroke-width", 0.35);
  const xTop = d3.scaleLinear().domain([p.x0, p.x1]).range([l + p.topShift[0], r + p.topShift[1]]);
  g.append("g").attr("transform", `translate(0,${t})`)
    .call(d3.axisTop(xTop).tickValues(major).tickSize(0).tickPadding(8).tickFormat(d3.format("d")))
    .call(s => s.select(".domain").remove())
    .call(s => s.selectAll("text").call(heavy).style("font-family", SANS).style("font-size", "16px"));
  g.append("g").attr("transform", `translate(0,${b})`)
    .call(d3.axisBottom(x).tickValues(major).tickSize(0).tickPadding(9).tickFormat(d3.format("d")))
    .call(s => s.select(".domain").remove())
    .call(s => s.selectAll("text").call(heavy).style("font-family", p.bottomFont).style("font-size", "16px"));

  // intensity ticks: each trace has its own 0 and 1 marks
  const yTicks = [], yText = new Map();
  p.flux.forEach((_, i) => {
    const o = p.shift * i;
    if (p.blank) { yTicks.push(2 - o); yText.set(2 - o, ""); }
    yTicks.push(1 - o); yText.set(1 - o, "1");
    yTicks.push(-o); yText.set(-o, "0");
  });
  const fmt = v => yText.get(v);
  const styleY = s => {
    s.select(".domain").remove();
    s.selectAll("line").attr("stroke", INK).attr("stroke-width", 1.5);
    s.selectAll("text").attr("fill", INK).attr("stroke", INK).attr("stroke-width", 0.2)
      .style("font-family", SERIF).style("font-size", "15px");
  };
  g.append("g").attr("transform", `translate(${l},0)`)
    .call(d3.axisLeft(y).tickValues(yTicks).tickSize(-6).tickPadding(6).tickFormat(fmt)).call(styleY);
  g.append("g").attr("transform", `translate(${r},0)`)
    .call(d3.axisRight(y).tickValues(yTicks).tickSize(-6).tickPadding(6).tickFormat(fmt)).call(styleY);

  // frame
  g.append("rect").attr("x", l).attr("y", t).attr("width", r - l).attr("height", b - t)
    .attr("fill", "none").attr("stroke", INK).attr("stroke-width", 2);

  // phase and date of each trace
  const w = r - l;
  p.flux.forEach((_, i) => {
    const yy = y(p.textY - p.shift * i);
    g.append("text").attr("x", l + 0.676 * w).attr("y", yy).attr("dy", "0.35em")
      .call(heavy).attr("stroke-width", 0.3)
      .style("font-family", LABEL).style("font-size", "14.5px")
      .text("ϕ=" + p.phases[i]);
    g.append("text").attr("x", l + 0.84 * w).attr("y", yy).attr("dy", "0.35em")
      .call(heavy).attr("stroke-width", 0.3)
      .style("font-family", LABEL).style("font-size", "14.5px")
      .text(p.dates[i]);
  });

  // title
  const tb = t + p.titleBase;
  p.words.forEach(([word, dx, greek]) => {
    const tx = g.append("text").attr("x", l + dx).attr("y", tb)
      .attr("fill", INK).style("font-family", SERIF).style("font-size", "20px").text(word);
    if (greek) tx.append("tspan").style("font-style", "italic").text(greek);
  });
  const ex = g.append("text").attr("x", r - p.exprRight).attr("y", tb).attr("text-anchor", "end")
    .attr("fill", INK).style("font-family", SERIF).style("font-size", "20px");
  ex.append("tspan").text("(I(");
  ex.append("tspan").style("font-style", "italic").text("ϕ");
  ex.append("tspan").text(")−I(0)+1)");

  // panel tag
  g.append("text").attr("x", p.tagX).attr("y", b + p.tagBase).attr("text-anchor", "middle")
    .attr("fill", INK).style("font-family", "'Liberation Serif', serif").style("font-size", "26px")
    .text(p.tag);
}
</script>
</body>
</html>
